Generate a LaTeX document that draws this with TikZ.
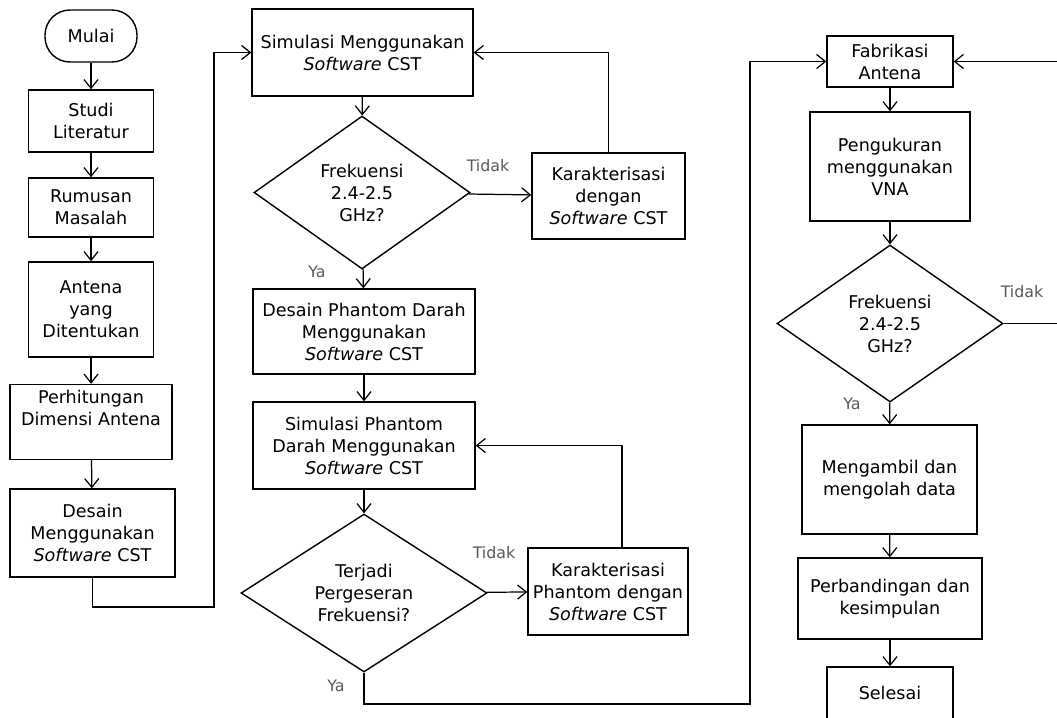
\documentclass[tikz,border=0pt]{standalone}
\usepackage{fontspec}
\setmainfont{DejaVu Sans}
\usepackage{tikz}
\usetikzlibrary{arrows.meta}
\usetikzlibrary{calc}
\usetikzlibrary{positioning}
\usetikzlibrary{shapes.geometric}

\tikzset{
  flowbox/.style={draw,rectangle,align=center,inner sep=2pt,line width=0.8pt},
  flowdec/.style={draw,diamond,align=center,inner sep=0pt,aspect=1.4,line width=0.8pt},
  flowend/.style={draw,rectangle,rounded corners=0.5cm,align=center,line width=0.8pt},
  flowlbl/.style={text=black!65,font=\fontsize{9}{11}\selectfont},
  flowline/.style={draw,line width=0.7pt,->,>={Straight Barb[length=5pt,width=8pt]}}
}

\begin{document}
\begin{tikzpicture}[x=0.02cm,y=-0.02cm,font=\fontsize{10}{12.5}\selectfont]

  \useasboundingbox (0,0) rectangle (1057,717);

  % first column
  \node [flowend,minimum width=1.84cm,minimum height=1.04cm] (mulai) at (91,36) {Mulai};
  \node [flowbox,minimum width=2.5cm,minimum height=1.24cm] (studi) at (91,121) {Studi\\Literatur};
  \node [flowbox,minimum width=2.5cm,minimum height=1.18cm] (rumusan) at (91,207.5) {Rumusan\\Masalah};
  \node [flowbox,minimum width=2.5cm,minimum height=1.9cm] (antena) at (91,309.5) {Antena\\yang\\Ditentukan};
  \node [flowbox,minimum width=3.24cm,minimum height=1.5cm] (hitung) at (91,422) {Perhitungan\\Dimensi Antena\\[4pt]};
  \node [flowbox,minimum width=3.3cm,minimum height=1.76cm] (desain) at (92.5,533) {Desain\\Menggunakan\\\textit{Software} CST};

  % second column
  \node [flowbox,minimum width=4.42cm,minimum height=1.74cm] (simcst) at (362.5,52.5) {Simulasi Menggunakan\\\textit{Software} CST};
  \node [flowdec,minimum width=4.32cm,minimum height=3.06cm] (frek1) at (362,192.5) {Frekuensi\\2.4-2.5\\GHz?};
  \node [flowbox,minimum width=3.06cm,minimum height=1.72cm] (karak1) at (608.5,196) {Karakterisasi\\dengan\\\textit{Software} CST};
  \node [flowbox,minimum width=4.44cm,minimum height=1.7cm] (desainph) at (364,331.5) {Desain Phantom Darah\\Menggunakan\\\textit{Software} CST};
  \node [flowbox,minimum width=4.44cm,minimum height=1.74cm] (simph) at (364,445.5) {Simulasi Phantom\\Darah Menggunakan\\\textit{Software} CST};
  \node [flowdec,minimum width=4.92cm,minimum height=3.16cm] (geser) at (364,593) {Terjadi\\Pergeseran\\Frekuensi?};
  \node [flowbox,minimum width=3.2cm,minimum height=1.74cm] (karak2) at (608,591.5) {Karakterisasi\\Phantom dengan\\\textit{Software} CST};

  % third column
  \node [flowbox,minimum width=2.52cm,minimum height=1.02cm] (fab) at (890,61.5) {Fabrikasi\\Antena};
  \node [flowbox,minimum width=3.2cm,minimum height=2.18cm] (ukur) at (890,166.5) {Pengukuran\\menggunakan\\VNA};
  \node [flowdec,minimum width=4.52cm,minimum height=3.14cm] (frek2) at (890,323.5) {Frekuensi\\2.4-2.5\\GHz?};
  \node [flowbox,minimum width=3.5cm,minimum height=2.18cm] (olah) at (889.5,479.5) {Mengambil dan\\mengolah data};
  \node [flowbox,minimum width=3.68cm,minimum height=1.62cm] (banding) at (890,598.5) {Perbandingan dan\\kesimpulan};
  \node [flowbox,minimum width=2.52cm,minimum height=1.04cm] (selesai) at (890,693) {Selesai};

  \coordinate (c_kiri)  at (214,607);
  \coordinate (c_bawah) at (750,704);
  \coordinate (c_kanan) at (1062,323.5);

  \path [flowline]
    (mulai)   edge (studi)
    (studi)   edge (rumusan)
    (rumusan) edge (antena)
    (antena)  edge (hitung)
    (hitung)  edge (desain)
    (simcst)  edge (frek1)
    (frek1)   edge (karak1)
    (frek1)   edge (desainph)
    (desainph) edge (simph)
    (simph)   edge (geser)
    (geser)   edge (karak2)
    (fab)     edge (ukur)
    (ukur)    edge (frek2)
    (frek2)   edge (olah)
    (olah)    edge (banding)
    (banding) edge (selesai);

  \path [flowline] (desain.south) |- (c_kiri) |- (simcst.west);
  \path [flowline] (karak1.north) |- (simcst.east);
  \path [flowline] ([xshift=0.28cm]karak2.north) |- (simph.east);
  \path [flowline] (geser.south) |- (c_bawah) |- (fab.west);
  \path [flowline] (frek2.east) -- (c_kanan) |- (fab.east);

  \node [flowlbl] (tidak1) at (488,166) {Tidak};
  \node [flowlbl] (ya1)    at (317,272) {Ya};
  \node [flowlbl] (tidak2) at (494,553) {Tidak};
  \node [flowlbl] (ya2)    at (336,686) {Ya};
  \node [flowlbl] (tidak3) at (1022,292) {Tidak};
  \node [flowlbl] (ya3)    at (852,404) {Ya};

\end{tikzpicture}
\end{document}
